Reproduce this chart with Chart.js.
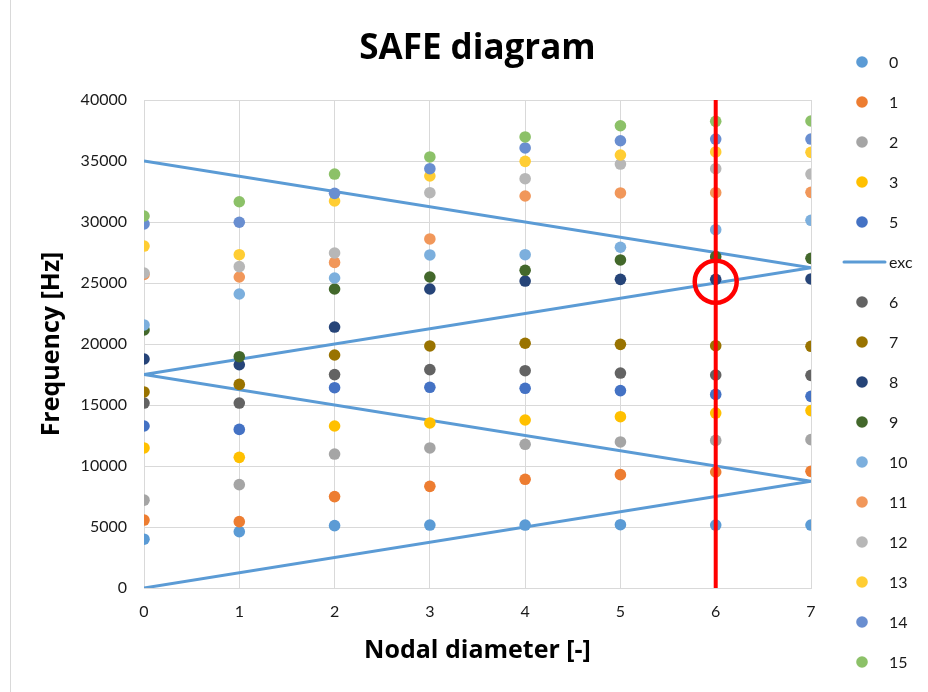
<!DOCTYPE html>
<html>
<head>
<meta charset="utf-8">
<title>SAFE diagram</title>
<script src="https://cdn.jsdelivr.net/npm/chart.js@4.4.1/dist/chart.umd.min.js"></script>
<style>
  html, body { margin: 0; padding: 0; background: #ffffff; }
  #wrap { width: 928px; height: 692px; position: relative; }
  canvas { display: block; }
</style>
</head>
<body>
<div id="wrap"><canvas id="safe" width="928" height="692"></canvas></div>
<script>
// Nodal diameters on the x axis
const nodalDiameters = [0, 1, 2, 3, 4, 5, 6, 7];

// Mode family names and their natural frequencies [Hz] per nodal diameter
const modeNames = ['0', '1', '2', '3', '5', '6', '7', '8', '9', '10', '11', '12', '13', '14', '15'];
const mode0  = [4000, 4620, 5110, 5160, 5160, 5190, 5160, 5160];
const mode1  = [5570, 5440, 7490, 8330, 8910, 9290, 9510, 9560];
const mode2  = [7200, 8470, 10980, 11480, 11780, 11970, 12100, 12160];
const mode3  = [11480, 10710, 13280, 13530, 13770, 14040, 14340, 14540];
const mode5  = [13280, 13000, 16420, 16450, 16370, 16180, 15870, 15710];
const mode6  = [15160, 15160, 17490, 17900, 17810, 17620, 17460, 17430];
const mode7  = [16070, 16690, 19100, 19840, 20060, 19970, 19860, 19810];
const mode8  = [18770, 18300, 21390, 24510, 25160, 25300, 25300, 25330];
const mode9  = [21150, 18960, 24510, 25490, 26040, 26890, 27160, 27020];
const mode10 = [21560, 24100, 25410, 27300, 27320, 27930, 29370, 30140];
const mode11 = [25700, 25490, 26690, 28610, 32130, 32380, 32400, 32430];
const mode12 = [25820, 26340, 27460, 32400, 33550, 34750, 34370, 33930];
const mode13 = [28030, 27320, 31720, 33770, 34970, 35490, 35740, 35710];
const mode14 = [29840, 29980, 32350, 34370, 36070, 36660, 36800, 36800];
const mode15 = [30490, 31660, 33930, 35330, 36970, 37890, 38250, 38280];
const modeValues = [mode0, mode1, mode2, mode3, mode5, mode6, mode7, mode8,
                    mode9, mode10, mode11, mode12, mode13, mode14, mode15];

// Excitation zig-zag (aliased engine order line)
const excND   = [0, 7, 0, 7, 0];
const excFreq = [0, 8750, 17500, 26250, 35000];

// Highlighted resonance: nodal diameter 6, mode near 25 kHz
const highlightND = 6;
const highlightFreq = 25100;
const highlightSpan = [0, 40000];

// Axis ticks
const xTicks = [0, 1, 2, 3, 4, 5, 6, 7];
const yTickStep = 5000;
const yMax = 40000;

const modeColors = ['#5B9BD5', '#ED7D31', '#A5A5A5', '#FFC000', '#4472C4', '#636363', '#997300',
                    '#264478', '#43682B', '#7CAFDD', '#F1975A', '#B7B7B7', '#FFCD33', '#698ED0', '#8CC168'];
const excColor = '#5B9BD5';

const FONT = 'Lato, "Open Sans", "DejaVu Sans", sans-serif';
const HEAD_FONT = '"Open Sans", Lato, "DejaVu Sans", sans-serif';

const modeSets = modeValues.map((vals, i) => ({
  label: modeNames[i],
  data: nodalDiameters.map((nd, k) => ({ x: nd, y: vals[k] })),
  backgroundColor: modeColors[i],
  borderColor: modeColors[i],
  pointRadius: 5.8,
  pointBorderWidth: 0,
  pointHoverRadius: 5.8,
  showLine: false,
  order: 100 - i
}));

const excSet = {
  label: 'exc',
  data: excND.map((nd, k) => ({ x: nd, y: excFreq[k] })),
  showLine: true,
  borderColor: excColor,
  backgroundColor: excColor,
  borderWidth: 3,
  pointRadius: 0,
  fill: false,
  order: 200,
  legendLine: true
};

const markLine = {
  label: 'highlight line',
  data: highlightSpan.map(f => ({ x: highlightND, y: f })),
  showLine: true,
  borderColor: '#FF0000',
  borderWidth: 4,
  pointRadius: 0,
  order: 1,
  hideInLegend: true
};

const markCircle = {
  label: 'highlight circle',
  data: [{ x: highlightND, y: highlightFreq }],
  showLine: false,
  pointRadius: 21,
  pointHoverRadius: 21,
  pointBackgroundColor: 'rgba(0,0,0,0)',
  pointBorderColor: '#FF0000',
  pointBorderWidth: 4.5,
  order: 0,
  hideInLegend: true
};

// Legend listing order: modes 0..5, then the excitation line, then 6..15
const datasets = [...modeSets.slice(0, 5), excSet, ...modeSets.slice(5), markLine, markCircle];

const frame = {
  id: 'frame',
  beforeDraw(chart) {
    const c = chart.ctx;
    c.save();
    c.fillStyle = '#ffffff';
    c.fillRect(0, 0, chart.width, chart.height);
    c.strokeStyle = '#D9D9D9';
    c.lineWidth = 1;
    c.beginPath();
    c.moveTo(10.5, 0);
    c.lineTo(10.5, chart.height);
    c.stroke();
    c.restore();
  }
};

const sideLegend = {
  id: 'sideLegend',
  afterDraw(chart) {
    const c = chart.ctx;
    const items = chart.data.datasets.filter(d => !d.hideInLegend);
    const top = 62, step = 40, markX = 862, textX = 889;
    c.save();
    c.font = '16px ' + FONT;
    c.textBaseline = 'middle';
    c.textAlign = 'left';
    items.forEach((d, i) => {
      const y = top + i * step;
      if (d.legendLine) {
        c.strokeStyle = d.borderColor;
        c.lineWidth = 3;
        c.lineCap = 'round';
        c.beginPath();
        c.moveTo(844, y);
        c.lineTo(885, y);
        c.stroke();
      } else {
        c.fillStyle = d.backgroundColor;
        c.beginPath();
        c.arc(markX, y, 5.8, 0, Math.PI * 2);
        c.fill();
      }
      c.fillStyle = '#1a1a1a';
      c.fillText(d.label, textX, y + 1);
    });
    c.restore();
  }
};

new Chart(document.getElementById('safe'), {
  type: 'scatter',
  data: { datasets },
  plugins: [frame, sideLegend],
  options: {
    responsive: false,
    animation: false,
    events: [],
    layout: { padding: { left: 0, right: 117, top: 0, bottom: 0 } },
    plugins: {
      legend: { display: false },
      tooltip: { enabled: false },
      title: {
        display: true,
        fullSize: false,
        text: 'SAFE diagram',
        color: '#000000',
        font: { family: HEAD_FONT, size: 35, weight: 'bold', lineHeight: 1.2 },
        padding: { top: 28, bottom: 30 }
      }
    },
    scales: {
      x: {
        type: 'linear',
        min: 0,
        max: 7,
        afterBuildTicks: s => { s.ticks = xTicks.map(v => ({ value: v })); },
        afterFit: s => { s.height = 104; },
        ticks: { color: '#1a1a1a', font: { family: FONT, size: 16 }, padding: 14 },
        grid: { color: '#D9D9D9', lineWidth: 1, drawTicks: false },
        border: { color: '#D9D9D9', width: 1 },
        title: {
          display: true,
          text: 'Nodal diameter [-]',
          color: '#000000',
          font: { family: HEAD_FONT, size: 25, weight: 'bold', lineHeight: 1.2 },
          padding: { top: 0, bottom: 26 }
        }
      },
      y: {
        type: 'linear',
        min: 0,
        max: yMax,
        afterFit: s => { s.width = 144; },
        ticks: {
          stepSize: yTickStep,
          color: '#1a1a1a',
          font: { family: FONT, size: 16 },
          padding: 17,
          callback: v => String(v)
        },
        grid: { color: '#D9D9D9', lineWidth: 1, drawTicks: false },
        border: { color: '#D9D9D9', width: 1 },
        title: {
          display: true,
          text: 'Frequency [Hz]',
          color: '#000000',
          font: { family: HEAD_FONT, size: 25, weight: 'bold', lineHeight: 1.2 },
          padding: { top: 37, bottom: 0 }
        }
      }
    }
  }
});
</script>
</body>
</html>
